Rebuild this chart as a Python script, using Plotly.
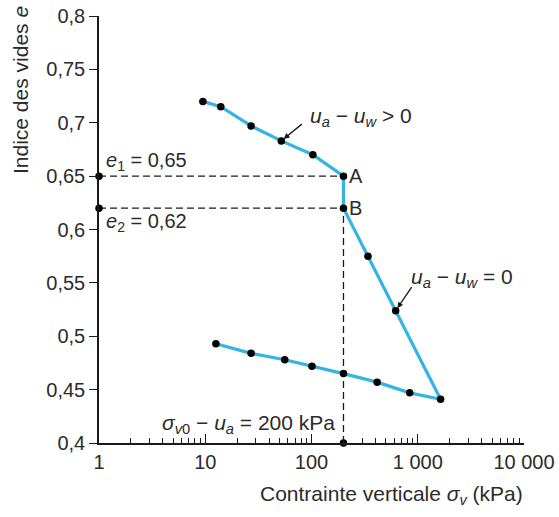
import plotly.graph_objects as go
import math

# ---- data ----
sigma_load = [9.5, 14, 27, 52, 103, 200]          # kPa, ua - uw > 0 (to A)
e_load = [0.72, 0.715, 0.697, 0.683, 0.670, 0.65]
sigma_sat = [200, 340, 620, 1640]                 # kPa, ua - uw = 0 (from B)
e_sat = [0.62, 0.575, 0.524, 0.441]
sigma_unload = [840, 415, 200, 101, 56, 27, 12.6] # unloading
e_unload = [0.447, 0.457, 0.465, 0.472, 0.478, 0.484, 0.493]

sigma_ref = 200      # sigma_v0 - ua
e1 = 0.65
e2 = 0.62
sigma_axis_min = 1
e_axis_min = 0.4

x_tickvals = [1, 10, 100, 1000, 10000]
x_ticktext = ["1", "10", "100", "1 000", "10 000"]
y_tickvals = [0.4, 0.45, 0.5, 0.55, 0.6, 0.65, 0.7, 0.75, 0.8]
y_ticktext = ["0,4", "0,45", "0,5", "0,55", "0,6", "0,65", "0,7", "0,75", "0,8"]

FONT = "Liberation Sans, Arial, sans-serif"
TXT = "#2b2b2b"
CYAN = "#35b3e3"

fig = go.Figure()

# dashed guide lines
for gx, gy in (([sigma_axis_min, sigma_ref], [e1, e1]),
               ([sigma_axis_min, sigma_ref], [e2, e2]),
               ([sigma_ref, sigma_ref], [e_axis_min, e2])):
    fig.add_trace(go.Scatter(x=gx, y=gy, mode="lines",
                             line=dict(color="#1a1a1a", width=1.3, dash="7px,4px"),
                             hoverinfo="skip", showlegend=False))

# main curve
xs = sigma_load + sigma_sat + sigma_unload
ys = e_load + e_sat + e_unload
fig.add_trace(go.Scatter(x=xs, y=ys, mode="lines",
                         line=dict(color=CYAN, width=3.2),
                         hoverinfo="skip", showlegend=False))
fig.add_trace(go.Scatter(x=xs, y=ys, mode="markers",
                         marker=dict(color="black", size=7.5),
                         hoverinfo="skip", showlegend=False))
# guide points on axes
fig.add_trace(go.Scatter(x=[sigma_axis_min, sigma_axis_min, sigma_ref],
                         y=[e1, e2, e_axis_min], mode="markers",
                         marker=dict(color="black", size=7.5), cliponaxis=False,
                         hoverinfo="skip", showlegend=False))

ann = []
tf = dict(family=FONT, size=20, color=TXT)
tf2 = dict(family=FONT, size=21, color=TXT)
# e1, e2 labels
ann.append(dict(x=math.log10(sigma_axis_min), y=e1, xref="x", yref="y", text="<i>e</i><sub>1</sub> = 0,65",
                showarrow=False, xanchor="left", yanchor="bottom", xshift=5, yshift=0, font=tf))
ann.append(dict(x=math.log10(sigma_axis_min), y=e2, xref="x", yref="y", text="<i>e</i><sub>2</sub> = 0,62",
                showarrow=False, xanchor="left", yanchor="top", xshift=5, yshift=0, font=tf))
# A, B
ann.append(dict(x=math.log10(sigma_ref), y=e1, xref="x", yref="y", text="A",
                showarrow=False, xanchor="left", yanchor="middle", xshift=4, font=tf))
ann.append(dict(x=math.log10(sigma_ref), y=e2, xref="x", yref="y", text="B",
                showarrow=False, xanchor="left", yanchor="middle", xshift=4, font=tf))
# ua - uw > 0
ann.append(dict(x=math.log10(sigma_load[3]), y=e_load[3], xref="x", yref="y", text="",
                showarrow=True, ax=22, ay=-18, arrowhead=2, arrowsize=0.9, arrowwidth=1.3,
                arrowcolor="#1a1a1a", standoff=3))
ann.append(dict(x=math.log10(sigma_load[3]), y=e_load[3], xref="x", yref="y",
                text="<i>u</i><sub><i>a</i></sub> \u2212 <i>u</i><sub><i>w</i></sub> &gt; 0",
                showarrow=False, xanchor="left", yanchor="middle", xshift=27, yshift=24, font=tf2))
# ua - uw = 0
ann.append(dict(x=math.log10(sigma_sat[2]), y=e_sat[2], xref="x", yref="y", text="",
                showarrow=True, ax=17, ay=-25, arrowhead=2, arrowsize=0.9, arrowwidth=1.3,
                arrowcolor="#1a1a1a", standoff=3))
ann.append(dict(x=math.log10(sigma_sat[2]), y=e_sat[2], xref="x", yref="y",
                text="<i>u</i><sub><i>a</i></sub> \u2212 <i>u</i><sub><i>w</i></sub> = 0",
                showarrow=False, xanchor="left", yanchor="middle", xshift=13, yshift=33, font=tf2))
# sigma_v0 - ua = 200 kPa
ann.append(dict(x=math.log10(sigma_ref), y=e_axis_min, xref="x", yref="y",
                text="<i>\u03c3</i><sub><i>v</i>0</sub> \u2212 <i>u</i><sub><i>a</i></sub> = 200 kPa",
                showarrow=False, xanchor="right", yanchor="bottom", xshift=-6, yshift=4, font=tf2))
# axis titles (in pixels relative to the plot area)
tt = dict(family=FONT, size=21, color=TXT)
ann.append(dict(x=1.0, y=0.0, xref="paper", yref="paper", xshift=1, yshift=-52,
                text="Contrainte verticale <i>\u03c3</i><sub><i>v</i></sub> (kPa)",
                showarrow=False, xanchor="right", yanchor="middle", font=tt))
ann.append(dict(x=0.0, y=1.0, xref="paper", yref="paper", xshift=-79, yshift=12,
                text="Indice des vides <i>e</i>", textangle=-90,
                showarrow=False, xanchor="center", yanchor="top", font=tt))

fig.update_layout(
    width=559, height=517,
    margin=dict(l=99, r=35, t=16, b=74, autoexpand=False),
    paper_bgcolor="white", plot_bgcolor="white",
    font=dict(family=FONT, size=20, color=TXT),
    annotations=ann,
    showlegend=False,
)
fig.update_xaxes(type="log", range=[0, 4], tickvals=x_tickvals, ticktext=x_ticktext,
                 ticks="inside", ticklen=9, tickwidth=1.3, tickcolor="#1a1a1a",
                 showline=True, linecolor="#1a1a1a", linewidth=1.5,
                 showgrid=False, zeroline=False, automargin=False,
                 ticklabeloverflow="allow",
                 minor=dict(ticks="inside", ticklen=5, tickwidth=1.1, tickcolor="#1a1a1a",
                            showgrid=False, dtick="D1"),
                 tickfont=dict(family=FONT, size=20, color=TXT))
fig.update_yaxes(range=[0.4, 0.8], tickvals=y_tickvals, ticktext=y_ticktext,
                 ticks="outside", ticklen=8, tickwidth=1.3, tickcolor="#1a1a1a",
                 showline=True, linecolor="#1a1a1a", linewidth=1.5,
                 showgrid=False, zeroline=False, automargin=False,
                 ticklabeloverflow="allow",
                 tickfont=dict(family=FONT, size=20, color=TXT))

# remove the default 8px page margin so the figure fills the window exactly
fig.write_html("out.html",
               config={"displayModeBar": False},
               post_script="document.body.style.margin='0';document.body.style.overflow='hidden';")
